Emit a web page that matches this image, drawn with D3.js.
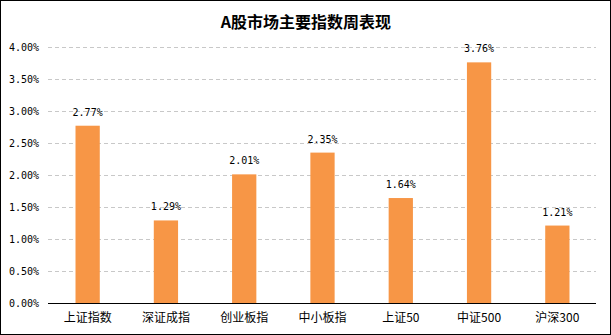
<!DOCTYPE html>
<html><head><meta charset="utf-8">
<script src="https://cdn.jsdelivr.net/npm/d3@7/dist/d3.min.js"></script>
<style>
html,body{margin:0;padding:0;background:#fff;}
svg{display:block;}
</style></head>
<body>
<script>
const categories = ["上证指数","深证成指","创业板指","中小板指","上证50","中证500","沪深300"];
const values = [2.77, 1.29, 2.01, 2.35, 1.64, 3.76, 1.21];
const yTicks = [0, 0.5, 1, 1.5, 2, 2.5, 3, 3.5, 4];
const title = "A股市场主要指数周表现";

(function () {
const W = 611, H = 335;
const svg = d3.select("body").append("svg").attr("width", W).attr("height", H);

svg.append("rect").attr("x",0.5).attr("y",0.5).attr("width",W-1).attr("height",H-1)
  .attr("fill","#fff").attr("stroke","#000").attr("stroke-width",1);

const mLeft = 48, mRight = 596, mTop = 47, mBottom = 303;

const x = d3.scaleBand().domain(categories).range([mLeft + 0.5, mRight + 0.5]).paddingInner(0.69).paddingOuter(0.345);
const y = d3.scaleLinear().domain([0, 4]).range([mBottom, mTop]);

svg.append("text").attr("x", 306).attr("y", 28).attr("text-anchor","middle")
  .attr("font-family","'Noto Sans CJK SC', sans-serif").attr("font-weight","bold")
  .attr("font-size",16).attr("fill","#000").text(title);

// gridlines
svg.append("g").selectAll("line").data(yTicks.filter(d => d > 0)).join("line")
  .attr("x1", mLeft).attr("x2", mRight)
  .attr("y1", d => Math.round(y(d)) + 0.5).attr("y2", d => Math.round(y(d)) + 0.5)
  .attr("stroke","#c8c8c8").attr("stroke-width",1).attr("stroke-dasharray","4,3");

// y tick labels
const yAxis = d3.axisLeft(y).tickValues(yTicks).tickSize(0).tickPadding(9)
  .tickFormat(d => d.toFixed(2) + "%");
const gy = svg.append("g").attr("transform", `translate(${mLeft},0)`).call(yAxis);
gy.select(".domain").remove();
gy.selectAll("text").attr("font-family","'DejaVu Sans Mono', monospace").attr("font-size",10).attr("fill","#000");

// bars
svg.append("g").selectAll("rect").data(values).join("rect")
  .attr("x", (d,i) => x(categories[i]))
  .attr("width", x.bandwidth())
  .attr("y", d => y(d))
  .attr("height", d => y(0) - y(d))
  .attr("fill","#f79646");

// value labels
svg.append("g").selectAll("text").data(values).join("text")
  .attr("x", (d,i) => x(categories[i]) + x.bandwidth()/2)
  .attr("y", d => y(d) - 10)
  .attr("text-anchor","middle")
  .attr("font-family","'DejaVu Sans Mono', monospace").attr("font-size",10).attr("fill","#000")
  .text(d => d.toFixed(2) + "%");

// x axis
const xAxis = d3.axisBottom(x).tickSize(0).tickPadding(10);
const gx = svg.append("g").attr("transform", `translate(0,${mBottom})`).call(xAxis);
gx.select(".domain").attr("stroke","#000").attr("d", `M${mLeft},0.5H${mRight}`);
gx.selectAll("text").attr("font-family","'Noto Sans CJK SC', sans-serif").attr("font-size",12).attr("fill","#000");
})();
</script>
</body></html>
